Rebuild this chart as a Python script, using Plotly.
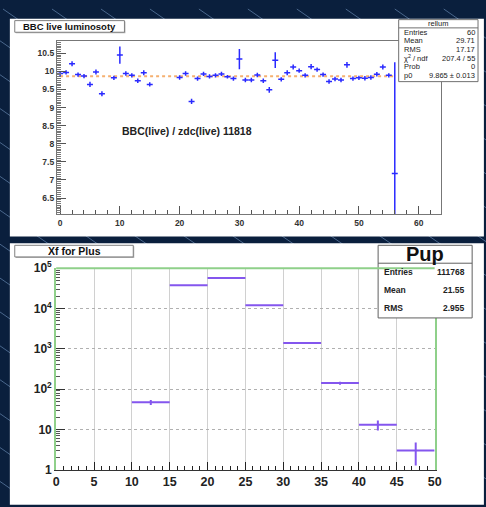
import numpy as np
import plotly.graph_objects as go

W, H = 486, 507

# ---------------- data: top panel (BBC live / zdc live ratio) ----------------
run_x = [0, 1, 2, 3, 4, 5, 6, 7, 9, 10, 11, 12, 13, 14, 15,
         20, 21, 22, 23, 24, 25, 26, 27, 28, 29, 30, 31, 32, 33, 34, 35,
         36, 37, 38, 39, 40, 41, 42, 43, 44, 45, 46, 47, 48, 49, 50,
         51, 52, 53, 54, 55, 56]
ratio = [9.94, 9.97, 10.21, 9.91, 9.87, 9.64, 9.98, 9.38, 9.82, 10.45, 9.94, 9.89, 9.74, 9.96, 9.64,
         9.83, 9.94, 9.17, 9.80, 9.93, 9.86, 9.89, 9.93, 9.85, 9.80, 10.34, 9.76, 9.76, 9.90, 9.74, 9.49,
         10.31, 9.78, 9.96, 10.12, 10.02, 9.89, 10.13, 10.05, 9.91, 9.72, 9.79, 9.76, 10.18, 9.80, 9.82,
         9.81, 9.83, 9.92, 10.12, 9.89, 7.18]
ratio_err = [0.07, 0.06, 0.07, 0.06, 0.06, 0.07, 0.07, 0.07, 0.06, 0.24, 0.06, 0.06, 0.06, 0.07, 0.06,
             0.06, 0.06, 0.07, 0.06, 0.06, 0.06, 0.06, 0.06, 0.05, 0.06, 0.28, 0.06, 0.06, 0.06, 0.06, 0.08,
             0.22, 0.06, 0.07, 0.07, 0.06, 0.06, 0.07, 0.06, 0.06, 0.06, 0.06, 0.06, 0.08, 0.06, 0.06,
             0.06, 0.06, 0.06, 0.07, 0.06, 3.07]
fit_p0 = 9.865
fit_range = [0, 56]
top_stats_title = "rellum"
top_stats_labels = ["Entries", "Mean", "RMS", "χ<sup>2</sup> / ndf", "Prob", "p0"]
top_stats_values = ["60", "29.71", "17.17", "207.4 / 55", "0", "9.865 ± 0.013"]

# ---------------- data: bottom panel (Xf for Plus) ----------------
bin_edges = [10, 15, 20, 25, 30, 35, 40, 45, 50]
bin_counts = [47, 38000, 57000, 12000, 1390, 141, 13, 3]
bot_stats_title = "Pup"
bot_stats_labels = ["Entries", "Mean", "RMS"]
bot_stats_values = ["111768", "21.55", "2.955"]
log_tickvals = [1, 10, 100, 1000, 10000, 100000]
log_ticktext = ["1", "10", "10<sup>2</sup>", "10<sup>3</sup>", "10<sup>4</sup>", "10<sup>5</sup>"]

FONT = "Liberation Sans"
NAVY = "#0a1f3d"
BLUE = "#2a2aff"
PURPLE = "#8456ee"
GREEN = "#8fd08a"
CLEAR = "rgba(0,0,0,0)"


def px(x):
    return x / W


def py(y):
    return 1 - y / H


shapes = []
annotations = []

# decorative diagonal background lines
for x0 in range(-900, 520, 50):
    shapes.append(dict(type="line", xref="paper", yref="paper", layer="below",
                       x0=px(x0), y0=py(0), x1=px(x0 + H / 0.7), y1=py(H),
                       line=dict(color="#4a678c", width=1)))

# white panels
shapes.append(dict(type="rect", xref="paper", yref="paper", layer="below",
                   x0=px(7), x1=px(W + 5), y0=py(235), y1=py(10),
                   fillcolor="white", line=dict(width=0)))
shapes.append(dict(type="rect", xref="paper", yref="paper", layer="below",
                   x0=px(7), x1=px(W + 5), y0=py(H + 5), y1=py(242),
                   fillcolor="white", line=dict(width=0)))


def title_box(x0, x1, y0, y1, text, size):
    shapes.append(dict(type="rect", xref="paper", yref="paper",
                       x0=px(x0 + 1), x1=px(x1 + 1), y0=py(y1 + 1), y1=py(y0 + 1),
                       fillcolor="#b0b0b0", line=dict(width=0)))
    shapes.append(dict(type="rect", xref="paper", yref="paper",
                       x0=px(x0), x1=px(x1), y0=py(y1), y1=py(y0),
                       fillcolor="white", line=dict(color="#808080", width=1)))
    annotations.append(dict(xref="paper", yref="paper", x=px((x0 + x1) / 2), y=py((y0 + y1) / 2),
                            text="<b>%s</b>" % text, showarrow=False, xanchor="center", yanchor="middle",
                            font=dict(family=FONT, size=size, color="#111")))


title_box(12, 124, 12, 24, "BBC live luminosoty", 9.5)
title_box(12, 133, 244, 256, "Xf for Plus", 10.5)

# top stats box
shapes.append(dict(type="rect", xref="paper", yref="paper",
                   x0=px(404), x1=px(485), y0=py(75), y1=py(11),
                   fillcolor="white", line=dict(color="#707070", width=1)))
shapes.append(dict(type="line", xref="paper", yref="paper",
                   x0=px(404), x1=px(485), y0=py(19.5), y1=py(19.5),
                   line=dict(color="#707070", width=1)))
annotations.append(dict(xref="paper", yref="paper", x=px(444.5), y=py(15.3), text=top_stats_title,
                        showarrow=False, xanchor="center", yanchor="middle",
                        font=dict(family=FONT, size=7.5, color="#222")))
for i, (lab, val) in enumerate(zip(top_stats_labels, top_stats_values)):
    yy = py(24 + i * 8.9)
    annotations.append(dict(xref="paper", yref="paper", x=px(407), y=yy, text=lab, showarrow=False,
                            xanchor="left", yanchor="middle", font=dict(family=FONT, size=7.5, color="#222")))
    annotations.append(dict(xref="paper", yref="paper", x=px(484), y=yy, text=val, showarrow=False,
                            xanchor="right", yanchor="middle", font=dict(family=FONT, size=7.5, color="#222")))

# bottom stats box
shapes.append(dict(type="rect", xref="paper", yref="paper",
                   x0=px(383), x1=px(479), y0=py(319), y1=py(244),
                   fillcolor="white", line=dict(color="#606060", width=1)))
shapes.append(dict(type="line", xref="paper", yref="paper",
                   x0=px(383), x1=px(479), y0=py(262.5), y1=py(262.5),
                   line=dict(color="#606060", width=1)))
annotations.append(dict(xref="paper", yref="paper", x=px(431), y=py(253), text="<b>%s</b>" % bot_stats_title,
                        showarrow=False, xanchor="center", yanchor="middle",
                        font=dict(family=FONT, size=20, color="#111")))
for i, (lab, val) in enumerate(zip(bot_stats_labels, bot_stats_values)):
    yy = py(271.7 + i * 18.7)
    annotations.append(dict(xref="paper", yref="paper", x=px(386.5), y=yy, text="<b>%s</b>" % lab,
                            showarrow=False, xanchor="left", yanchor="middle",
                            font=dict(family=FONT, size=8.5, color="#222")))
    annotations.append(dict(xref="paper", yref="paper", x=px(474), y=yy, text="<b>%s</b>" % val,
                            showarrow=False, xanchor="right", yanchor="middle",
                            font=dict(family=FONT, size=8.5, color="#222")))

# text inside top plot
annotations.append(dict(xref="x", yref="y", x=10.1, y=8.35, text="<b>BBC(live) / zdc(live) 11818</b>",
                        showarrow=False, xanchor="left", yanchor="middle",
                        font=dict(family=FONT, size=10.5, color="#222")))

# green frame top for bottom plot
shapes.append(dict(type="line", xref="x2 domain", yref="y2 domain", x0=0, x1=1, y0=1, y1=1,
                   line=dict(color=GREEN, width=2)))

fig = go.Figure()

# fit line
fig.add_trace(go.Scatter(x=fit_range, y=[fit_p0, fit_p0], mode="lines",
                         line=dict(color="#f5b070", width=2, dash="dot"),
                         xaxis="x", yaxis="y", showlegend=False, hoverinfo="skip"))
# top points
fig.add_trace(go.Scatter(x=run_x, y=ratio, mode="markers", marker=dict(size=1, color=CLEAR),
                         error_x=dict(type="constant", value=0.5, width=0, thickness=1.5, color=BLUE),
                         error_y=dict(type="data", array=ratio_err, width=0, thickness=1.5, color=BLUE),
                         xaxis="x", yaxis="y", showlegend=False))

# bottom histogram
centers = [(a + b) / 2 for a, b in zip(bin_edges[:-1], bin_edges[1:])]
halfw = [(b - a) / 2 for a, b in zip(bin_edges[:-1], bin_edges[1:])]
errs = [np.sqrt(c) for c in bin_counts]
fig.add_trace(go.Scatter(x=centers, y=bin_counts, mode="markers", marker=dict(size=1, color=CLEAR),
                         error_x=dict(type="data", array=halfw, width=0, thickness=2, color=PURPLE),
                         error_y=dict(type="data", array=errs, width=0, thickness=2, color=PURPLE),
                         xaxis="x2", yaxis="y2", showlegend=False))

tickfont_top = dict(family=FONT, size=8.5, color="#333", weight="bold")
tickfont_bot = dict(family=FONT, size=12.5, color="#222", weight="bold")

fig.update_layout(
    width=W, height=H,
    margin=dict(l=0, r=0, t=0, b=0),
    paper_bgcolor=NAVY,
    plot_bgcolor="rgba(0,0,0,0)",
    shapes=shapes,
    annotations=annotations,
    xaxis=dict(domain=[px(55), px(447)], anchor="y", range=[-0.54, 63.7],
               tickvals=[0, 10, 20, 30, 40, 50, 60], ticks="inside", ticklen=8, tickcolor="#555",
               minor=dict(ticks="inside", ticklen=4, dtick=2, tick0=0, tickcolor="#555"),
               showgrid=False, zeroline=False, showline=True, linecolor="#777", mirror=True,
               tickfont=tickfont_top),
    yaxis=dict(domain=[py(212), py(33)], anchor="x", range=[6.05, 10.84],
               tickvals=[6.5, 7, 7.5, 8, 8.5, 9, 9.5, 10, 10.5],
               ticktext=["6.5", "7", "7.5", "8", "8.5", "9", "9.5", "10", "10.5"],
               ticks="inside", ticklen=9, tickcolor="#555",
               minor=dict(ticks="inside", ticklen=4, dtick=0.05, tick0=0, tickcolor="#777"),
               showgrid=False, zeroline=False, showline=True, linecolor="#777", mirror=True,
               tickfont=tickfont_top),
    xaxis2=dict(domain=[px(54.3), px(440.7)], anchor="y2", range=[0, 50],
                tickvals=list(range(0, 51, 5)), ticks="inside", ticklen=8, tickcolor="#222",
                minor=dict(ticks="inside", ticklen=4, dtick=1, tick0=0, tickcolor="#222",
                           showgrid=False),
                showgrid=True, gridcolor="#d0d0d0", gridwidth=1,
                zeroline=False, showline=True, linecolor="#333", linewidth=1,
                tickfont=tickfont_bot),
    yaxis2=dict(domain=[py(475.7), py(267.7)], anchor="x2", type="log", range=[0, 5],
                tickvals=log_tickvals, ticktext=log_ticktext,
                ticks="inside", ticklen=9, tickcolor="#333",
                minor=dict(ticks="inside", ticklen=4, dtick="D1", tickcolor="#555", showgrid=False),
                showgrid=True, gridcolor="#b0b0b0", griddash="dot", gridwidth=1,
                zeroline=False, showline=True, linecolor=GREEN, linewidth=2, mirror=True,
                tickfont=dict(family=FONT, size=12, color="#222", weight="bold")),
)

fig.write_html("out.html", config={"displayModeBar": False},
               post_script="document.body.style.margin='0';document.body.style.overflow='hidden';")
